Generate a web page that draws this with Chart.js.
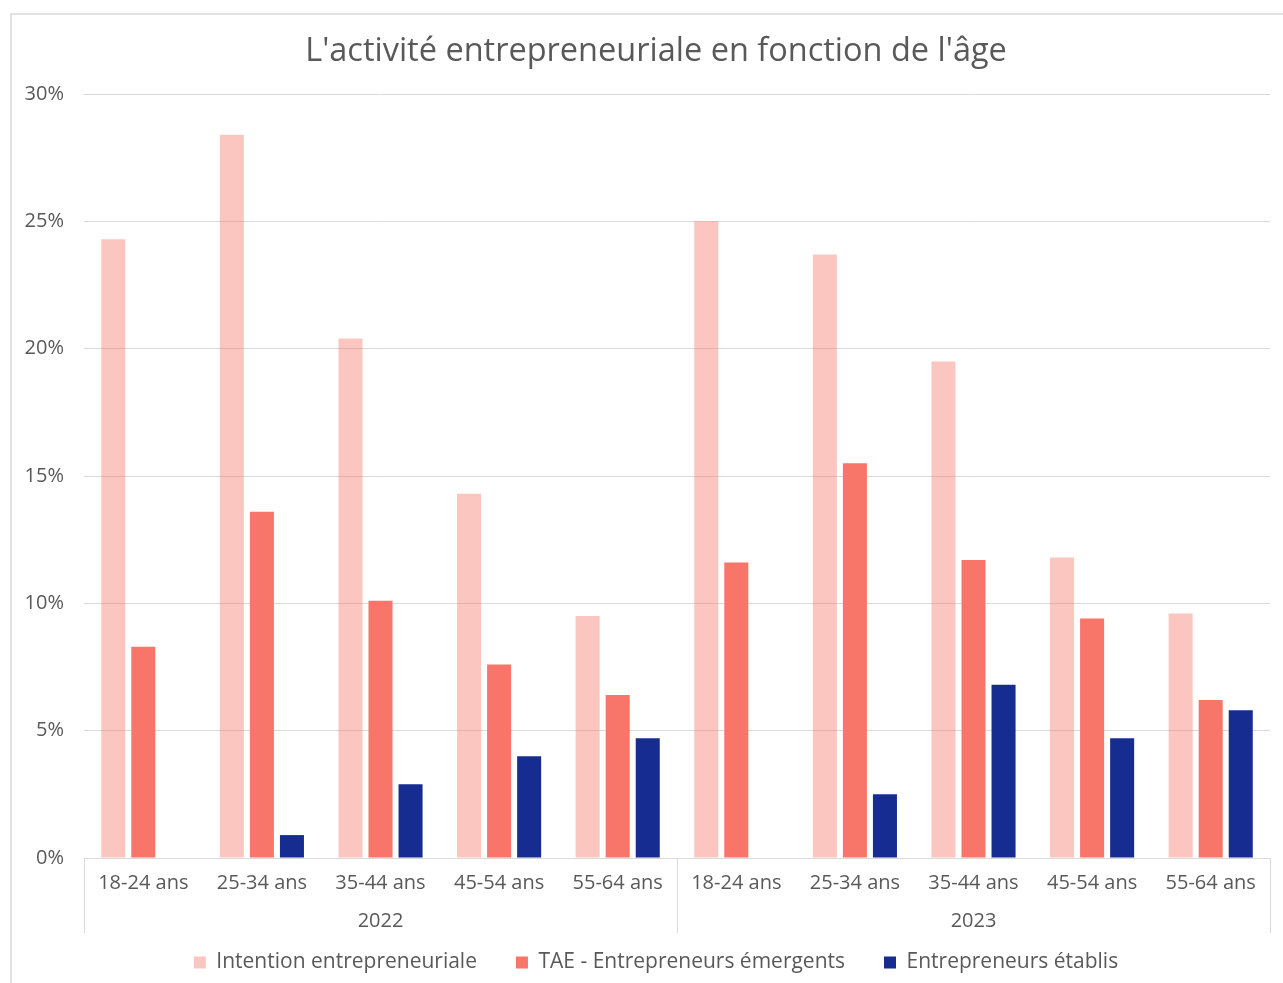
<!DOCTYPE html>
<html lang="fr">
<head>
<meta charset="utf-8">
<title>Activité entrepreneuriale par âge</title>
<script src="https://cdn.jsdelivr.net/npm/chart.js@4.4.1/dist/chart.umd.min.js"></script>
<style>
  html, body { margin: 0; padding: 0; background: #fff; }
  #wrap { position: relative; width: 1283px; height: 983px; }
</style>
</head>
<body>
<div id="wrap"><canvas id="ageChart" width="1283" height="983"></canvas></div>
<script>
// Tranches d'âge et années
const ageGroups = ['18-24 ans', '25-34 ans', '35-44 ans', '45-54 ans', '55-64 ans'];
const years = ['2022', '2023'];
const categories = years.flatMap(function() { return ageGroups; });

// Valeurs en % (2022 puis 2023)
const intention = [24.3, 28.4, 20.4, 14.3, 9.5, 25.0, 23.7, 19.5, 11.8, 9.6];
const tae = [8.3, 13.6, 10.1, 7.6, 6.4, 11.6, 15.5, 11.7, 9.4, 6.2];
const etablis = [null, 0.9, 2.9, 4.0, 4.7, null, 2.5, 6.8, 4.7, 5.8];

const yTicks = [0, 5, 10, 15, 20, 25, 30];

const textColor = '#595959';
const lineColor = '#d9d9d9';
const fontFamily = "'Open Sans', 'Noto Sans', sans-serif";

// Cadre, années et séparateurs sous l'axe des catégories
const yearAxisPlugin = {
    id: 'yearAxis',
    afterLayout: function(chart) {
        // les libellés de l'axe Y débordent dans la marge de gauche
        chart.scales.y.left = 0;
    },
    beforeDraw: function(chart) {
        const c = chart.ctx;
        c.save();
        c.strokeStyle = lineColor;
        c.lineWidth = 1.5;
        c.strokeRect(11, 14, 1400, 1100);
        c.restore();
    },
    afterDraw: function(chart) {
        const c = chart.ctx;
        const x = chart.scales.x;
        const area = chart.chartArea;
        const n = ageGroups.length;
        const step = x.getPixelForValue(1) - x.getPixelForValue(0);
        c.save();
        c.strokeStyle = lineColor;
        c.lineWidth = 1;
        const bounds = [x.left];
        years.forEach(function(y, i) {
            const start = x.getPixelForValue(i * n);
            const end = x.getPixelForValue(i * n + n - 1);
            bounds.push(end + step / 2);
            c.fillStyle = textColor;
            c.font = '20px ' + fontFamily;
            c.textAlign = 'center';
            c.textBaseline = 'middle';
            c.fillText(y, (start + end) / 2, area.bottom + 63);
        });
        bounds.forEach(function(bx) {
            const px = Math.round(bx) + 0.5;
            c.beginPath();
            c.moveTo(px, area.bottom);
            c.lineTo(px, area.bottom + 75);
            c.stroke();
        });
        c.restore();
    }
};

const ctx = document.getElementById('ageChart');
new Chart(ctx, {
    type: 'bar',
    data: {
        labels: categories,
        datasets: [
            {
                label: 'Intention entrepreneuriale',
                data: intention,
                backgroundColor: 'rgba(247, 118, 106, 0.42)'
            },
            {
                label: 'TAE - Entrepreneurs émergents',
                data: tae,
                backgroundColor: '#f8756a'
            },
            {
                label: 'Entrepreneurs établis',
                data: etablis,
                backgroundColor: '#172c90'
            }
        ]
    },
    options: {
        responsive: false,
        animation: false,
        datasets: {
            bar: {
                barPercentage: 0.8,
                categoryPercentage: 0.76
            }
        },
        layout: {
            padding: { left: 42, right: 13, top: 0, bottom: 0 }
        },
        scales: {
            x: {
                grid: { display: false, drawTicks: false },
                border: { display: false },
                ticks: {
                    color: textColor,
                    font: { family: fontFamily, size: 20 },
                    padding: 13,
                    maxRotation: 0,
                    autoSkip: false
                },
                afterFit: function(scale) { scale.height = 55; }
            },
            y: {
                min: 0,
                max: 30,
                afterBuildTicks: function(scale) {
                    scale.ticks = yTicks.map(function(v) { return { value: v }; });
                },
                grid: { color: lineColor, drawTicks: false, lineWidth: 1 },
                border: { display: false },
                ticks: {
                    color: textColor,
                    font: { family: fontFamily, size: 20 },
                    padding: 20,
                    callback: function(v) { return v + '%'; }
                },
                afterFit: function(scale) { scale.width = 42; }
            }
        },
        plugins: {
            title: {
                display: true,
                text: "L'activité entrepreneuriale en fonction de l'âge",
                color: textColor,
                font: { family: fontFamily, size: 32.5, weight: 'normal' },
                padding: { top: 32.5, bottom: 22.5 }
            },
            legend: {
                position: 'bottom',
                labels: {
                    color: textColor,
                    font: { family: fontFamily, size: 21 },
                    boxWidth: 12,
                    boxHeight: 12,
                    padding: 39
                }
            },
            tooltip: { enabled: false }
        }
    },
    plugins: [yearAxisPlugin]
});
</script>
</body>
</html>
